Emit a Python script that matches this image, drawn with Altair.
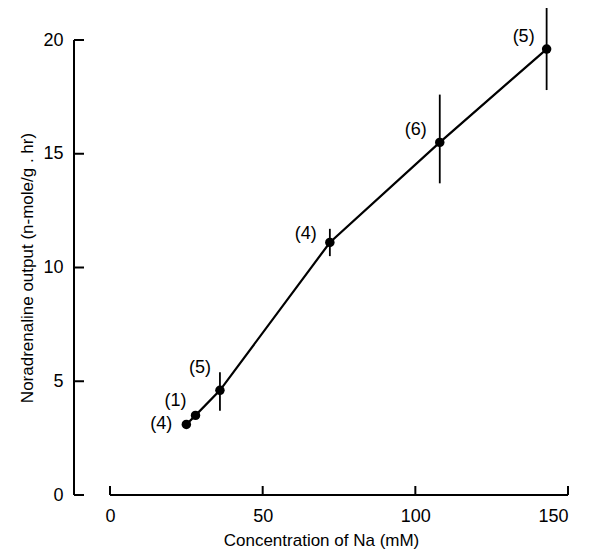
import altair as alt
import pandas as pd

conc = [25, 28, 36, 72, 108, 143]
output = [3.1, 3.5, 4.6, 11.1, 15.5, 19.6]
err_lo = [None, None, 3.7, 10.5, 13.7, 17.8]
err_hi = [None, None, 5.4, 11.7, 17.6, 21.5]
n_labels = ["(4)", "(1)", "(5)", "(4)", "(6)", "(5)"]
lab_dx = [-25, -20, -20, -24, -24, -23]
lab_dy = [0, -14, -22, -8, -12, -12]

x_ticks = [0, 50, 100, 150]
y_ticks = [0, 5, 10, 15, 20]
y_axis_x = -11.8  # where the detached y axis sits, in data units

df = pd.DataFrame({"conc": conc, "out": output, "lo": err_lo, "hi": err_hi, "lab": n_labels})

xs = alt.Scale(domain=[y_axis_x, 150], nice=False, zero=False)
ys = alt.Scale(domain=[0, 20], nice=False)
x = alt.X("conc:Q", scale=xs,
          axis=alt.Axis(values=x_ticks, title="Concentration of Na (mM)", domain=False, ticks=False))
y = alt.Y("out:Q", scale=ys,
          axis=alt.Axis(values=y_ticks, title="Noradrenaline output (n-mole/g . hr)", domain=False, ticks=False))

base = alt.Chart(df)
line = base.mark_line(color="black", strokeWidth=2.2).encode(x=x, y=y)
pts = base.mark_circle(color="black", opacity=1, size=90).encode(x=x, y=y)
bars = base.transform_filter("datum.lo != null").mark_rule(color="black", strokeWidth=1.8).encode(
    x=x, y="lo:Q", y2="hi:Q")
texts = [
    base.transform_filter(f"datum.conc == {c}").mark_text(
        dx=dx, dy=dy, fontSize=18, font="Liberation Sans", color="black").encode(x=x, y=y, text="lab:N")
    for c, dx, dy in zip(conc, lab_dx, lab_dy)
]

# hand-drawn axis lines and inward ticks, as in the figure
xdom = alt.Chart(pd.DataFrame({"a": [x_ticks[0]], "b": [x_ticks[-1]]})).mark_rule(
    color="black", strokeWidth=2).encode(x=alt.X("a:Q", scale=xs), x2="b:Q", y=alt.value(455))
ydom = alt.Chart(pd.DataFrame({"a": [y_ticks[0]], "b": [y_ticks[-1]]})).mark_rule(
    color="black", strokeWidth=2).encode(y=alt.Y("a:Q", scale=ys), y2="b:Q", x=alt.value(0))
xt = alt.Chart(pd.DataFrame({"t": x_ticks})).mark_rule(color="black", strokeWidth=2).encode(
    x=alt.X("t:Q", scale=xs), y=alt.value(455), y2=alt.value(446))
yt = alt.Chart(pd.DataFrame({"t": y_ticks})).mark_rule(color="black", strokeWidth=2).encode(
    y=alt.Y("t:Q", scale=ys), x=alt.value(0), x2=alt.value(10))

chart = alt.layer(xdom, ydom, xt, yt, bars, line, pts, *texts).properties(
    width=494, height=455,
    autosize=alt.AutoSizeParams(type="none"),
    padding={"left": 66, "top": 32, "right": 14, "bottom": 57},
).configure_view(stroke=None, clip=False).configure_axis(
    grid=False, labelColor="black", titleColor="black", labelFont="Liberation Sans",
    titleFont="Liberation Sans", labelFontSize=18, titleFontSize=17, titleFontWeight="normal",
).configure_axisY(titlePadding=6, labelPadding=11).configure_axisX(titlePadding=7, labelPadding=12)

chart.save("out.html", embed_options={"renderer": "svg", "actions": False})
